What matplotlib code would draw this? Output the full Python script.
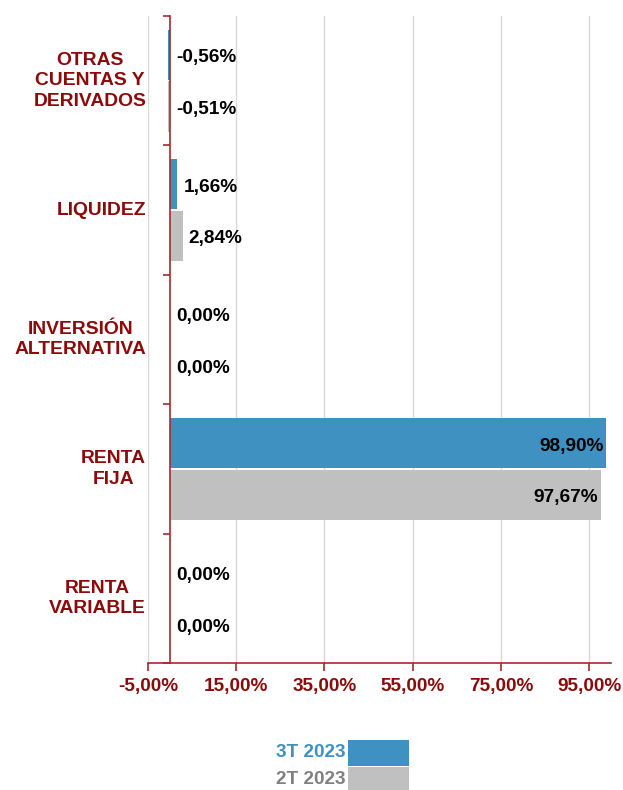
import matplotlib
matplotlib.use("Agg")
import matplotlib.pyplot as plt
from matplotlib.patches import Rectangle
import numpy as np

plt.rcParams['font.family'] = ['Liberation Sans', 'DejaVu Sans']

categories = ["OTRAS\nCUENTAS Y\nDERIVADOS", "LIQUIDEZ", "INVERSIÓN\nALTERNATIVA",
              "RENTA\nFIJA", "RENTA\nVARIABLE"]
series_names = ["3T 2023", "2T 2023"]
values_3t = [-0.56, 1.66, 0.00, 98.90, 0.00]
values_2t = [-0.51, 2.84, 0.00, 97.67, 0.00]
xticks = [-5, 15, 35, 55, 75, 95]

BLUE = '#3F91C2'
GRAY = '#C0C0C0'
DARKRED = '#8B0B0B'
SPINE = '#A52A2A'

def fmt(v):
    return f"{v:.2f}".replace('.', ',') + '%'

fig = plt.figure(figsize=(6.23, 7.90), dpi=100)
ax = fig.add_axes([148/623, 1 - 663/790, (610.7-148)/623, (663-16)/790])

y = np.arange(len(categories))
off = 0.2
h = 0.39
ax.barh(y - off, values_3t, height=h, color=BLUE, edgecolor='none', linewidth=0, zorder=3)
ax.barh(y + off, values_2t, height=h, color=GRAY, edgecolor='none', linewidth=0, zorder=3)

ax.set_xlim(-5, 99.9)
ax.set_ylim(len(categories) - 0.5, -0.5)

ax.set_xticks(xticks)
ax.set_xticklabels([fmt(t) for t in xticks], color=DARKRED, fontsize=13.7, fontweight='bold')
ax.tick_params(axis='x', colors=SPINE, length=6, width=1.2, pad=5, labelcolor=DARKRED)
ax.grid(axis='x', color='#D9D9D9', linewidth=1, zorder=0)

ax.spines['top'].set_visible(False)
ax.spines['right'].set_visible(False)
ax.spines['left'].set_position(('data', 0))
ax.spines['left'].set_color(SPINE)
ax.spines['bottom'].set_color(SPINE)
ax.spines['left'].set_linewidth(1.2)
ax.spines['bottom'].set_linewidth(1.2)
ax.spines['left'].set_zorder(4)

bounds = np.arange(len(categories) + 1) - 0.5
ax.set_yticks(bounds)
ax.set_yticklabels([])
ax.tick_params(axis='y', colors=SPINE, length=5, width=1.2, direction='out')

ytr = ax.get_yaxis_transform()
for yi, lab in zip(y, categories):
    ax.text(-0.004, yi, lab, transform=ytr, ha='right', va='center',
            multialignment='center', color=DARKRED, fontsize=13.9, fontweight='bold',
            linespacing=1.27)

def label_bars(vals, ypos):
    for v, yy in zip(vals, ypos):
        if v > 50:
            ax.annotate(fmt(v), xy=(v, yy), xytext=(-3, -3), textcoords='offset pixels',
                        ha='right', va='center', fontsize=13.7, fontweight='bold',
                        color='black', zorder=5)
        else:
            ax.annotate(fmt(v), xy=(max(v, 0), yy), xytext=(6, -3), textcoords='offset pixels',
                        ha='left', va='center', fontsize=13.7, fontweight='bold',
                        color='black', zorder=5)

label_bars(values_3t, y - off)
label_bars(values_2t, y + off)

# legend
leg_colors = [BLUE, GRAY]
text_colors = [BLUE, '#808080']
tops = [740, 767]
for name, c, tc, t in zip(series_names, leg_colors, text_colors, tops):
    fig.patches.append(Rectangle((347.5/623, 1 - (t + 25.5)/790), 61.5/623, 25.5/790,
                                 transform=fig.transFigure, facecolor=c, edgecolor='none'))
    fig.text(345/623, 1 - (t + 12.5)/790, name, ha='right', va='center', color=tc,
             fontsize=13.7, fontweight='bold')

fig.savefig('out.png', dpi=100)
